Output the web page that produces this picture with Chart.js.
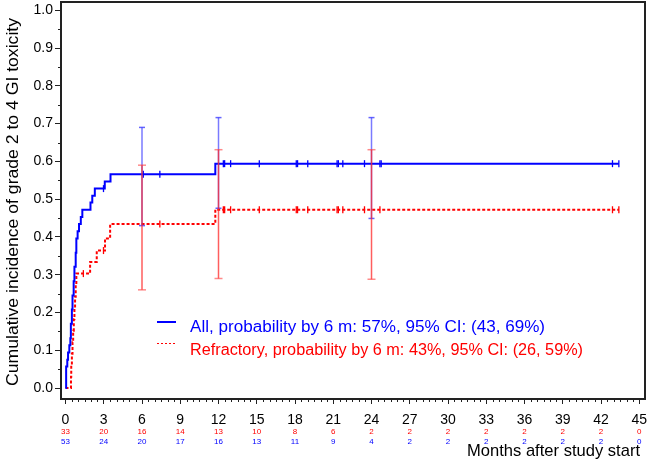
<!DOCTYPE html>
<html>
<head>
<meta charset="utf-8">
<script src="https://cdn.jsdelivr.net/npm/chart.js@4.4.0/dist/chart.umd.min.js"></script>
<style>
  html, body { margin: 0; padding: 0; background: #fff; }
  #wrap { width: 649px; height: 461px; }
</style>
</head>
<body>
<div id="wrap"><canvas id="cif" width="649" height="461"></canvas></div>
<script>
// axis ticks
const xTicks = [0, 3, 6, 9, 12, 15, 18, 21, 24, 27, 30, 33, 36, 39, 42, 45];
const yTicks = [0.0, 0.1, 0.2, 0.3, 0.4, 0.5, 0.6, 0.7, 0.8, 0.9, 1.0];

// step curves: event time (months) and cumulative incidence after it
const allTimes  = [0, 0.05, 0.14, 0.2, 0.3, 0.38, 0.42, 0.5, 0.55, 0.64, 0.7, 0.8, 0.85, 0.95, 1.06, 1.2, 1.32, 1.96, 2.1, 2.3, 3.08, 3.53, 11.75, 43.4];
const allValues = [0, 0.057, 0.075, 0.094, 0.113, 0.132, 0.170, 0.208, 0.245, 0.283, 0.321, 0.358, 0.396, 0.415, 0.434, 0.453, 0.472, 0.491, 0.509, 0.528, 0.547, 0.566, 0.594, 0.594];
const refTimes  = [0, 0.43, 0.45, 0.5, 0.55, 0.6, 0.65, 0.7, 0.75, 0.8, 0.85, 1.93, 2.45, 3.1, 3.5, 11.75, 43.4];
const refValues = [0, 0.030, 0.061, 0.091, 0.121, 0.152, 0.182, 0.212, 0.242, 0.273, 0.303, 0.334, 0.364, 0.396, 0.434, 0.472, 0.472];

// censored observations (months)
const allCensored = [2.98, 6.1, 7.4, 12.38, 12.48, 12.95, 15.2, 18.1, 18.2, 19.0, 21.3, 21.4, 21.75, 23.45, 24.66, 24.76, 42.9, 43.4];
const refCensored = [1.4, 2.98, 7.4, 12.38, 12.48, 12.95, 15.2, 18.1, 18.2, 19.0, 21.3, 21.4, 21.75, 23.45, 24.66, 42.9, 43.4];

// 95% confidence bars
const ciTimes  = [6, 12, 24];
const allLower = [0.43, 0.476, 0.449];
const allUpper = [0.69, 0.716, 0.716];
const refLower = [0.26, 0.29, 0.288];
const refUpper = [0.59, 0.631, 0.631];

// numbers at risk under each x tick
const atRiskRef = [33, 20, 16, 14, 13, 10, 8, 6, 2, 2, 2, 2, 2, 2, 2, 0];
const atRiskAll = [53, 24, 20, 17, 16, 13, 11, 9, 4, 2, 2, 2, 2, 2, 2, 0];

const BLUE = '#0000ff';
const RED = '#ff0000';
const FONT = "'Liberation Sans', Arial, sans-serif";

function levelAt(times, values, t) {
    let v = values[0];
    for (let i = 0; i < times.length; i++) {
        if (times[i] <= t) v = values[i];
    }
    return v;
}

function toPoints(xs, ys) {
    return xs.map((x, i) => ({ x: x, y: ys[i] }));
}

// draw text stretched to a given width (the original font runs wider)
function fitText(ctx, text, x, y, width) {
    const w = ctx.measureText(text).width;
    ctx.save();
    ctx.translate(x, y);
    ctx.scale(width / w, 1);
    ctx.textAlign = 'left';
    ctx.fillText(text, 0, 0);
    ctx.restore();
}

const datasets = [];

// CI bars on top
ciTimes.forEach((t, i) => {
    datasets.push({
        data: [{ x: t, y: refLower[i] }, { x: t, y: refUpper[i] }],
        borderColor: 'rgba(255, 40, 40, 0.75)',
        borderWidth: 1.5,
        pointStyle: 'line',
        pointRadius: 4,
        pointBorderColor: 'rgba(255, 60, 60, 0.6)',
        pointBorderWidth: 1.5,
        order: 0
    });
    datasets.push({
        data: [{ x: t, y: allLower[i] }, { x: t, y: allUpper[i] }],
        borderColor: 'rgba(50, 50, 255, 0.65)',
        borderWidth: 1.5,
        pointStyle: 'line',
        pointRadius: 3,
        pointBorderColor: 'rgba(50, 50, 255, 0.75)',
        pointBorderWidth: 1.5,
        order: 1
    });
});

// censoring ticks
datasets.push({
    data: allCensored.map(t => ({ x: t, y: levelAt(allTimes, allValues, t) })),
    showLine: false,
    pointStyle: 'line',
    rotation: 90,
    pointRadius: 3.5,
    pointBorderColor: BLUE,
    pointBorderWidth: 1.3,
    order: 2
});
datasets.push({
    data: refCensored.map(t => ({ x: t, y: levelAt(refTimes, refValues, t) })),
    showLine: false,
    pointStyle: 'line',
    rotation: 90,
    pointRadius: 3.5,
    pointBorderColor: RED,
    pointBorderWidth: 1.3,
    order: 3
});

// curves
datasets.push({
    data: toPoints(allTimes, allValues),
    borderColor: BLUE,
    borderWidth: 2,
    stepped: 'before',
    pointRadius: 0,
    fill: false,
    order: 4
});
datasets.push({
    data: toPoints(refTimes, refValues),
    borderColor: RED,
    borderWidth: 2,
    borderDash: [3, 2],
    stepped: 'before',
    pointRadius: 0,
    fill: false,
    order: 5
});

const decor = {
    id: 'decor',
    afterDraw(chart) {
        const ctx = chart.ctx;
        const a = chart.chartArea;
        const xs = chart.scales.x;
        const ys = chart.scales.y;
        ctx.save();

        // frame
        ctx.strokeStyle = '#222';
        ctx.lineWidth = 2;
        ctx.strokeRect(a.left, a.top, a.right - a.left, a.bottom - a.top);

        // minor ticks
        ctx.lineWidth = 1;
        ctx.beginPath();
        for (let i = 0; i < yTicks.length - 1; i++) {
            const py = Math.round(ys.getPixelForValue((yTicks[i] + yTicks[i + 1]) / 2)) + 0.5;
            ctx.moveTo(a.left - 3, py);
            ctx.lineTo(a.left, py);
        }
        for (let i = 0; i < xTicks.length - 1; i++) {
            const step = (xTicks[i + 1] - xTicks[i]) / 6;
            for (let k = 1; k < 6; k++) {
                const px = Math.round(xs.getPixelForValue(xTicks[i] + k * step)) + 0.5;
                ctx.moveTo(px, a.bottom);
                ctx.lineTo(px, a.bottom + 3);
            }
        }
        ctx.stroke();

        // numbers at risk
        ctx.font = '8px ' + FONT;
        ctx.textAlign = 'center';
        ctx.textBaseline = 'middle';
        xTicks.forEach((t, i) => {
            const px = xs.getPixelForValue(t);
            ctx.fillStyle = RED;
            ctx.fillText(String(atRiskRef[i]), px, 432);
            ctx.fillStyle = BLUE;
            ctx.fillText(String(atRiskAll[i]), px, 441.5);
        });

        // x title
        ctx.fillStyle = '#000';
        ctx.font = '17px ' + FONT;
        ctx.textBaseline = 'alphabetic';
        fitText(ctx, 'Months after study start', 467, 456, 173);

        // y title
        ctx.save();
        ctx.translate(17.5, 386);
        ctx.rotate(-Math.PI / 2);
        fitText(ctx, 'Cumulative incidence of grade 2 to 4 GI toxicity', 0, 0, 368);
        ctx.restore();

        // legend
        ctx.font = '16px ' + FONT;
        ctx.strokeStyle = BLUE;
        ctx.lineWidth = 2;
        ctx.beginPath();
        ctx.moveTo(157, 322);
        ctx.lineTo(176, 322);
        ctx.stroke();
        ctx.fillStyle = BLUE;
        fitText(ctx, 'All, probability by 6 m: 57%, 95% CI: (43, 69%)', 190, 331.5, 355);

        ctx.strokeStyle = RED;
        ctx.lineWidth = 1;
        ctx.setLineDash([2, 2]);
        ctx.beginPath();
        ctx.moveTo(157, 343.5);
        ctx.lineTo(176, 343.5);
        ctx.stroke();
        ctx.setLineDash([]);
        ctx.fillStyle = RED;
        fitText(ctx, 'Refractory, probability by 6 m: 43%, 95% CI: (26, 59%)', 190, 355, 393);

        ctx.restore();
    }
};

new Chart(document.getElementById('cif'), {
    type: 'line',
    data: { datasets: datasets },
    options: {
        responsive: false,
        animation: false,
        events: [],
        layout: { autoPadding: false, padding: { top: 2, right: 4, left: 0, bottom: 0 } },
        plugins: {
            legend: { display: false },
            tooltip: { enabled: false }
        },
        scales: {
            x: {
                type: 'linear',
                min: -0.353,
                max: 45.45,
                afterBuildTicks: s => { s.ticks = xTicks.map(v => ({ value: v })); },
                afterFit: s => { s.height = 62; s.paddingLeft = 0; s.paddingRight = 0; },
                ticks: {
                    autoSkip: false,
                    maxRotation: 0,
                    padding: 8,
                    color: '#000',
                    font: { family: FONT, size: 14 },
                    callback: v => String(v)
                },
                grid: { drawOnChartArea: false, drawTicks: true, tickLength: 5, color: '#222' },
                border: { display: false }
            },
            y: {
                type: 'linear',
                min: -0.029,
                max: 1.022,
                afterBuildTicks: s => { s.ticks = yTicks.map(v => ({ value: v })); },
                afterFit: s => { s.width = 61; s.paddingTop = 0; s.paddingBottom = 0; },
                ticks: {
                    padding: 2,
                    color: '#000',
                    font: { family: FONT, size: 14 },
                    callback: v => v.toFixed(1)
                },
                grid: { drawOnChartArea: false, drawTicks: true, tickLength: 6, color: '#222' },
                border: { display: false }
            }
        }
    },
    plugins: [decor]
});
</script>
</body>
</html>
